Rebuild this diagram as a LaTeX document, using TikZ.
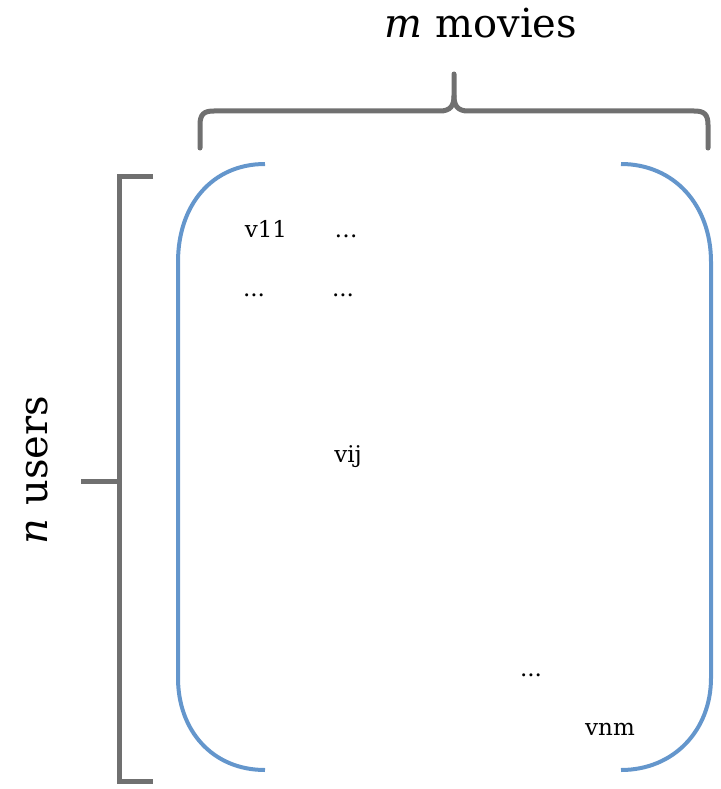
\documentclass[tikz,border=0pt]{standalone}
\usepackage{fontspec}
\setmainfont{DejaVu Serif}
\definecolor{bargray}{RGB}{112,112,112}
\definecolor{parblue}{RGB}{100,150,204}
\tikzset{
  graybar/.style={draw=bargray, line width=5pt, line cap=round},
  bluebar/.style={draw=parblue, line width=4pt},
  entry/.style={font=\fontsize{23}{26}\selectfont, inner sep=0pt, anchor=base},
  axislabel/.style={font=\fontsize{40}{46}\selectfont, inner sep=0pt, anchor=base}
}
\begin{document}
\begin{tikzpicture}[x=1pt, y=-1pt]
			\useasboundingbox (0,0) rectangle (720,789);
			% brace over the columns
			\draw[graybar] (200,148) -- (200,125) .. controls (200,114) and (204,111) .. (214,111) -- (440,111) .. controls (450,111) and (454,106) .. (454,96) -- (454,74);
			\draw[graybar] (708,148) -- (708,125) .. controls (708,114) and (704,111) .. (694,111) -- (468,111) .. controls (458,111) and (454,106) .. (454,96);
			% bracket beside the rows
			\draw[graybar, line cap=butt] (153,176) -- (119,176) -- (119,781) -- (153,781);
			\draw[graybar, line cap=butt] (81,481) -- (119,481);
			% matrix parentheses
			\draw[bluebar] (265,164) .. controls (212,164) and (178,205) .. (178,262) -- (178,678) .. controls (178,730) and (212,770) .. (265,770);
			\draw[bluebar] (621,164) .. controls (674,164) and (711,205) .. (711,262) -- (711,678) .. controls (711,730) and (674,770) .. (621,770);
			\node[axislabel] (movies) at (481,38) {\textit{m} movies};
			\node[axislabel, rotate=90] (users) at (47,470) {\textit{n} users};
			\node[entry] (v11) at (266,237) {v11};
			\node[entry] (d12) at (346,237) {\dots};
			\node[entry] (d21) at (254,296) {...};
			\node[entry] (d22) at (343,296) {...};
			\node[entry] (vij) at (348,462) {vij};
			\node[entry] (dnn) at (531,676) {...};
			\node[entry] (vnm) at (610,735) {vnm};
		\end{tikzpicture}
\end{document}
